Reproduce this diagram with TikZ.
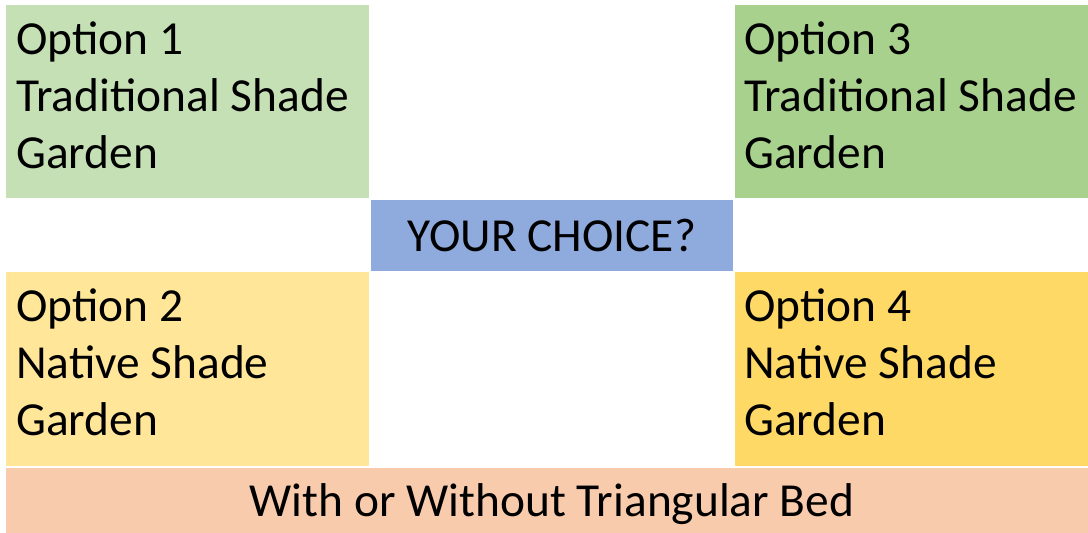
\documentclass[tikz,border=0pt]{standalone}
\usepackage{fontspec}
\setmainfont{Carlito}
\begin{document}
\begin{tikzpicture}[x=1pt,y=-1pt,
  tile/.style={draw=none,inner sep=0pt,outer sep=0pt},
  lbl/.style={anchor=base west,inner sep=0pt,font=\fontsize{47.4}{57}\selectfont},
  ctr/.style={anchor=base,inner sep=0pt,font=\fontsize{47.4}{57}\selectfont}]
\definecolor{gA}{HTML}{C5E0B4}
\definecolor{gB}{HTML}{A9D18E}
\definecolor{yA}{HTML}{FFE699}
\definecolor{yB}{HTML}{FFD966}
\definecolor{bl}{HTML}{8FAADC}
\definecolor{pc}{HTML}{F8CBAD}
\useasboundingbox (0,0) rectangle (1088,533);
% coloured tiles
\fill[gA] (6,5) rectangle (369,198);
\fill[gB] (735,5) rectangle (1088,198);
\fill[bl] (371,200) rectangle (733,271);
\fill[yA] (6,272) rectangle (369,466);
\fill[yB] (735,272) rectangle (1088,466);
\fill[pc] (6,468) rectangle (1088,533);
% texts
\node[lbl] (o1a) at (16,54) {Option 1};
\node[lbl] (o1b) at (16,111) {Traditional Shade};
\node[lbl] (o1c) at (16,168) {Garden};
\node[lbl] (o3a) at (744,54) {Option 3};
\node[lbl] (o3b) at (744,111) {Traditional Shade};
\node[lbl] (o3c) at (744,168) {Garden};
\node[ctr] (ch) at (552,251) {YOUR CHOICE?};
\node[lbl] (o2a) at (16,321) {Option 2};
\node[lbl] (o2b) at (16,378) {Native Shade};
\node[lbl] (o2c) at (16,435) {Garden};
\node[lbl] (o4a) at (744,321) {Option 4};
\node[lbl] (o4b) at (744,378) {Native Shade};
\node[lbl] (o4c) at (744,435) {Garden};
\node[ctr] (bed) at (552,516) {With or Without Triangular Bed};
\end{tikzpicture}
\end{document}
